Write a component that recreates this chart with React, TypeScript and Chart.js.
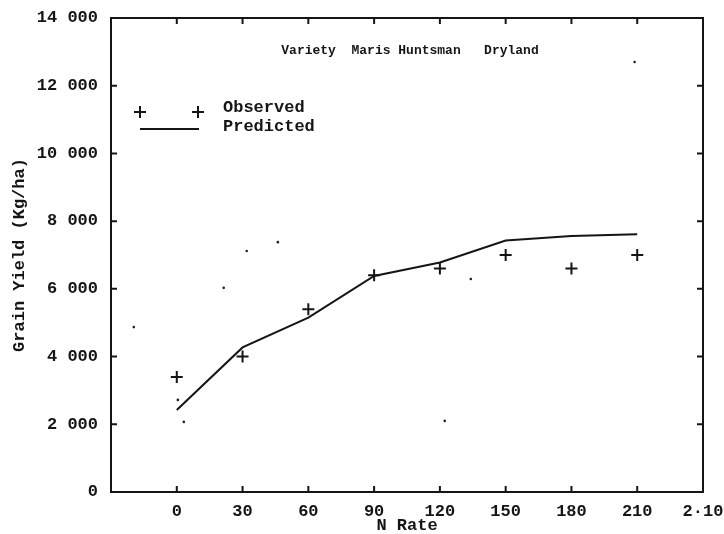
import { useEffect, useRef } from "react";
import { Chart, registerables } from "chart.js";

Chart.register(...registerables);

// Nitrogen rates (kg N/ha) and grain yields (kg/ha)
const nRates = [0, 30, 60, 90, 120, 150, 180, 210];
const observedYield = [3400, 4000, 5400, 6400, 6600, 7000, 6600, 7000];
const predictedYield = [2420, 4270, 5150, 6380, 6780, 7430, 7560, 7610];

// Stray dots printed inside the plotting frame
const speckX = [-19.6, 0.5, 3.2, 21.4, 31.9, 46.1, 122.2, 134.1, 208.8];
const speckY = [4870, 2720, 2070, 6030, 7120, 7380, 2100, 6290, 12700];

// Axis ticks
const xTickValues = [-30, 0, 30, 60, 90, 120, 150, 180, 210, 240];
const xTickLabels = ["", "0", "30", "60", "90", "120", "150", "180", "210", "2·10"];
const yTickLabels = ["0", "2 000", "4 000", "6 000", "8 000", "10 000", "12 000", "14 000"];

const chartTitle = "Variety  Maris Huntsman   Dryland";
const legendLabels = ["Observed", "Predicted"];

const INK = "#151515";
const FONT = "'Liberation Mono', 'DejaVu Sans Mono', monospace";

// Box with inward-pointing tick marks on all four sides
const frameTicks = {
  id: "frameTicks",
  afterDatasetsDraw(chart: any) {
    const { ctx, chartArea, scales } = chart;
    const { left, right, top, bottom } = chartArea;
    const len = 6;
    ctx.save();
    ctx.strokeStyle = INK;
    ctx.lineWidth = 2;
    ctx.strokeRect(left, top, right - left, bottom - top);
    ctx.beginPath();
    scales.x.ticks.forEach((t: any) => {
      if (t.value <= scales.x.min || t.value >= scales.x.max) return;
      const px = scales.x.getPixelForValue(t.value);
      ctx.moveTo(px, bottom);
      ctx.lineTo(px, bottom - len);
      ctx.moveTo(px, top);
      ctx.lineTo(px, top + len);
    });
    scales.y.ticks.forEach((t: any) => {
      if (t.value <= scales.y.min || t.value >= scales.y.max) return;
      const py = scales.y.getPixelForValue(t.value);
      ctx.moveTo(left, py);
      ctx.lineTo(left + len, py);
      ctx.moveTo(right, py);
      ctx.lineTo(right - len, py);
    });
    ctx.stroke();
    ctx.restore();
  },
};

// Heading and key drawn inside the frame
const innerTexts = {
  id: "innerTexts",
  afterDraw(chart: any) {
    const { ctx, chartArea } = chart;
    const { left, right, top } = chartArea;
    ctx.save();
    ctx.fillStyle = INK;
    ctx.strokeStyle = INK;
    ctx.textBaseline = "middle";

    ctx.font = `bold 13px ${FONT}`;
    ctx.textAlign = "center";
    ctx.fillText(chartTitle, (left + right) / 2 + 3, top + 33);

    // key: two crosses for the observed series, a line for the predicted one
    const kx0 = left + 29;
    const kx1 = left + 87;
    const ky0 = top + 94;
    const ky1 = top + 111;
    const r = 6;
    ctx.lineWidth = 2;
    ctx.beginPath();
    [kx0, kx1].forEach((cx) => {
      ctx.moveTo(cx - r, ky0);
      ctx.lineTo(cx + r, ky0);
      ctx.moveTo(cx, ky0 - r);
      ctx.lineTo(cx, ky0 + r);
    });
    ctx.moveTo(kx0, ky1);
    ctx.lineTo(kx1 + 1, ky1);
    ctx.stroke();

    ctx.font = `bold 17px ${FONT}`;
    ctx.textAlign = "left";
    ctx.fillText(legendLabels[0], left + 112, top + 90);
    ctx.fillText(legendLabels[1], left + 112, top + 109);
    ctx.restore();
  },
};

export default function App() {
  const canvasRef = useRef<HTMLCanvasElement | null>(null);

  useEffect(() => {
    const canvas = canvasRef.current;
    if (!canvas) return;

    const chart = new Chart(canvas, {
      type: "scatter",
      data: {
        datasets: [
          {
            label: legendLabels[1],
            data: nRates.map((x, i) => ({ x, y: predictedYield[i] })),
            showLine: true,
            borderColor: INK,
            borderWidth: 2,
            pointRadius: 0,
            tension: 0,
          },
          {
            label: legendLabels[0],
            data: nRates.map((x, i) => ({ x, y: observedYield[i] })),
            pointStyle: "cross",
            pointRadius: 6,
            pointBorderWidth: 2,
            borderColor: INK,
            backgroundColor: INK,
          },
          {
            label: "specks",
            data: speckX.map((x, i) => ({ x, y: speckY[i] })),
            pointStyle: "circle",
            pointRadius: 1.3,
            pointBorderWidth: 0,
            backgroundColor: "#222",
            borderColor: "#222",
          },
        ],
      },
      options: {
        animation: false,
        responsive: false,
        devicePixelRatio: 1,
        layout: { padding: { top: 18, right: 21, left: 0, bottom: 0 } },
        plugins: {
          legend: { display: false },
          tooltip: { enabled: false },
          title: { display: false },
        },
        scales: {
          x: {
            type: "linear",
            min: -30,
            max: 240,
            afterBuildTicks: (scale: any) => {
              scale.ticks = xTickValues.map((value) => ({ value }));
            },
            afterFit: (scale: any) => {
              scale.height = 42;
              scale.paddingLeft = 0;
              scale.paddingRight = 0;
            },
            grid: { display: false, drawTicks: false },
            border: { display: false },
            ticks: {
              autoSkip: false,
              maxRotation: 0,
              padding: 10,
              color: INK,
              font: { family: FONT, size: 17, weight: "bold" },
              callback: (_v: any, index: number) => xTickLabels[index],
            },
            title: {
              display: true,
              text: "N Rate",
              color: INK,
              font: { family: FONT, size: 17, weight: "bold", lineHeight: 1 },
              padding: { top: 0, bottom: 0 },
            },
          },
          y: {
            type: "linear",
            min: 0,
            max: 14000,
            afterBuildTicks: (scale: any) => {
              scale.ticks = yTickLabels.map((_l, i) => ({ value: i * 2000 }));
            },
            afterFit: (scale: any) => {
              scale.width = 111;
              scale.paddingTop = 0;
              scale.paddingBottom = 0;
            },
            grid: { display: false, drawTicks: false },
            border: { display: false },
            ticks: {
              autoSkip: false,
              padding: 13,
              color: INK,
              font: { family: FONT, size: 17, weight: "bold" },
              callback: (_v: any, index: number) => yTickLabels[index],
            },
            title: {
              display: true,
              text: "Grain Yield (Kg/ha)",
              color: INK,
              font: { family: FONT, size: 17, weight: "bold" },
              padding: { top: 10, bottom: 0 },
            },
          },
        },
      },
      plugins: [frameTicks, innerTexts],
    });

    return () => chart.destroy();
  }, []);

  return (
    <div style={{ position: "absolute", left: 0, top: 0, width: 724, height: 534, background: "#fff" }}>
      <canvas ref={canvasRef} width={724} height={534} style={{ display: "block" }} />
    </div>
  );
}
